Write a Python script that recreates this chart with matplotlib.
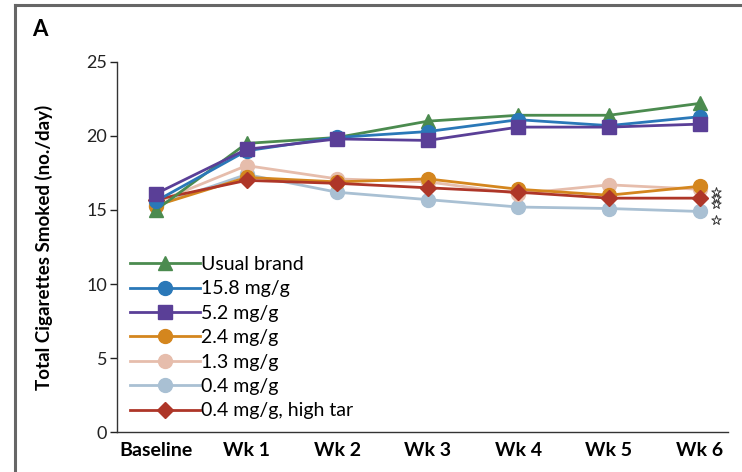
import matplotlib.pyplot as plt

# Data
weeks = ["Baseline", "Wk 1", "Wk 2", "Wk 3", "Wk 4", "Wk 5", "Wk 6"]
usual_brand = [15.0, 19.5, 19.9, 21.0, 21.4, 21.4, 22.2]
mg_15_8 = [15.6, 19.0, 19.9, 20.3, 21.1, 20.7, 21.3]
mg_5_2 = [16.1, 19.1, 19.8, 19.7, 20.6, 20.6, 20.8]
mg_2_4 = [15.3, 17.2, 16.9, 17.1, 16.4, 16.0, 16.6]
mg_1_3 = [15.5, 18.0, 17.1, 16.9, 16.1, 16.7, 16.4]
mg_0_4 = [15.3, 17.4, 16.2, 15.7, 15.2, 15.1, 14.9]
mg_0_4_tar = [15.7, 17.0, 16.8, 16.5, 16.2, 15.8, 15.8]

# significance stars beside week 6
star_x = [6.18, 6.18, 6.18, 6.18]
star_y = [16.2, 15.8, 15.4, 14.3]

x = list(range(len(weeks)))

plt.rcParams['font.family'] = ['Lato', 'DejaVu Sans']

fig = plt.figure(figsize=(7.42, 4.72), dpi=100)
ax = fig.add_axes([0.1577, 0.0847, 0.823, 0.784])

# grey frame round the panel (only top and left show)
fig.add_artist(plt.Line2D([15 / 742, 15 / 742], [0, 1 - 5 / 472], color='#666666', lw=2.2))
fig.add_artist(plt.Line2D([15 / 742, 1], [1 - 5 / 472, 1 - 5 / 472], color='#666666', lw=2.2))

series = [
    ("0.4 mg/g", mg_0_4, '#a9c0d3', 'o'),
    ("1.3 mg/g", mg_1_3, '#e6bdac', 'o'),
    ("2.4 mg/g", mg_2_4, '#d4861e', 'o'),
    ("0.4 mg/g, high tar", mg_0_4_tar, '#ae3628', 'D'),
    ("Usual brand", usual_brand, '#4b8b4f', '^'),
    ("15.8 mg/g", mg_15_8, '#2a78b8', 'o'),
    ("5.2 mg/g", mg_5_2, '#5a3f97', 's'),
]

handles = {}
for label, vals, col, mk in series:
    ms = 10 if mk != 'D' else 8.5
    line, = ax.plot(x, vals, color=col, marker=mk, markersize=ms, lw=2.0,
                    label=label, clip_on=False)
    handles[label] = line

order = ["Usual brand", "15.8 mg/g", "5.2 mg/g", "2.4 mg/g", "1.3 mg/g",
         "0.4 mg/g", "0.4 mg/g, high tar"]
ax.legend([handles[k] for k in order], order, loc='lower left',
          bbox_to_anchor=(0.0, 0.0), frameon=False, fontsize=14,
          handlelength=3.6, handletextpad=0.05, labelspacing=0.38,
          borderaxespad=0.25)

ax.scatter(star_x, star_y, marker='*', s=50, facecolor='white',
           edgecolor='#333333', linewidth=0.7, clip_on=False, zorder=5)

ax.set_xlim(-0.43, 6.31)
ax.set_ylim(0, 25)
ax.set_yticks([0, 5, 10, 15, 20, 25])
ax.set_xticks(x)
ax.set_xticklabels(weeks, fontweight='bold', fontsize=14)
ax.tick_params(axis='x', length=0, pad=7)
ax.tick_params(axis='y', direction='out', length=5, width=1, labelsize=13, pad=2,
               colors='#222222')
ax.spines['top'].set_visible(False)
ax.spines['right'].set_visible(False)
for s in ['left', 'bottom']:
    ax.spines[s].set_color('#333333')
    ax.spines[s].set_linewidth(1.0)

ax.set_ylabel("Total Cigarettes Smoked (no./day)", fontweight='bold',
              fontsize=13.5, labelpad=24)

fig.text(40 / 742, 1 - 30 / 472, "A", fontweight='bold', fontsize=16,
         ha='center', va='center')

fig.savefig("out.png", dpi=100)
